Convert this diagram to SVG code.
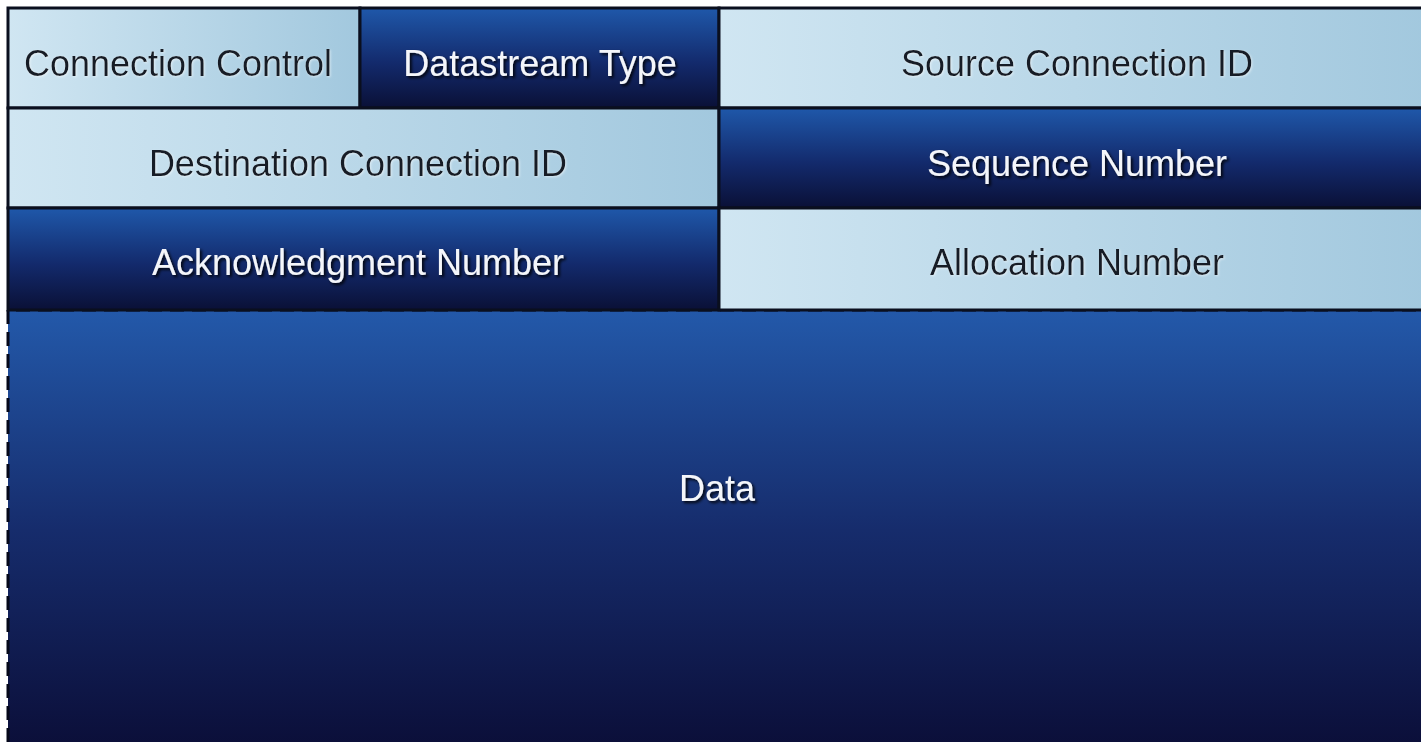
<svg xmlns="http://www.w3.org/2000/svg" width="1421" height="742" viewBox="0 0 1421 742">
<defs>
<linearGradient id="lightG" x1="0" y1="0" x2="1" y2="0">
<stop offset="0" stop-color="#d0e6f2"/>
<stop offset="1" stop-color="#a2c8de"/>
</linearGradient>
<linearGradient id="darkG" x1="0" y1="0" x2="0" y2="1">
<stop offset="0" stop-color="#1f58aa"/>
<stop offset="0.55" stop-color="#132a6c"/>
<stop offset="1" stop-color="#0a1036"/>
</linearGradient>
<linearGradient id="dataG" x1="0" y1="0" x2="0" y2="1">
<stop offset="0" stop-color="#2359aa"/>
<stop offset="0.5" stop-color="#162c6c"/>
<stop offset="1" stop-color="#0b0e38"/>
</linearGradient>
<filter id="shadowW" x="-10%" y="-30%" width="120%" height="160%">
<feDropShadow dx="2" dy="2" stdDeviation="1.5" flood-color="#000000" flood-opacity="0.9"/>
</filter>
<filter id="shadowD" x="-10%" y="-30%" width="120%" height="160%">
<feDropShadow dx="1" dy="1" stdDeviation="1" flood-color="#ffffff" flood-opacity="0.5"/>
</filter>
</defs>
<style>
.light{fill:url(#lightG);stroke:#0a0f1e;stroke-width:3}
.dark{fill:url(#darkG);stroke:#0a0f1e;stroke-width:3}
.data{fill:url(#dataG)}
.dash{fill:none;stroke:#05081a;stroke-width:3;stroke-dasharray:14 8}
text{font-family:"Liberation Sans",Arial,sans-serif;font-size:36px;text-anchor:middle}
.tl{fill:#141a26;filter:url(#shadowD)}
.td{fill:#f4f6fa;filter:url(#shadowW)}
</style>
<rect width="1421" height="742" fill="#ffffff"/>
<g id="data">
<rect class="data" x="8" y="310" width="1420" height="440"/>
<path class="dash" d="M8,742 L8,310 L1421,310"/>
<text class="td" x="717" y="501">Data</text>
</g>
<g id="connection-control">
<rect class="light" x="8" y="8" width="352" height="100"/>
<text class="tl" x="178" y="76">Connection Control</text>
</g>
<g id="datastream-type">
<rect class="dark" x="360" y="8" width="359" height="100"/>
<text class="td" x="540" y="76">Datastream Type</text>
</g>
<g id="source-connection-id">
<rect class="light" x="719" y="8" width="710" height="100"/>
<text class="tl" x="1077" y="76">Source Connection ID</text>
</g>
<g id="destination-connection-id">
<rect class="light" x="8" y="108" width="711" height="100"/>
<text class="tl" x="358" y="176">Destination Connection ID</text>
</g>
<g id="sequence-number">
<rect class="dark" x="719" y="108" width="710" height="100"/>
<text class="td" x="1077" y="176">Sequence Number</text>
</g>
<g id="acknowledgment-number">
<rect class="dark" x="8" y="208" width="711" height="102"/>
<text class="td" x="358" y="275">Acknowledgment Number</text>
</g>
<g id="allocation-number">
<rect class="light" x="719" y="208" width="710" height="102"/>
<text class="tl" x="1077" y="275">Allocation Number</text>
</g>
</svg>
